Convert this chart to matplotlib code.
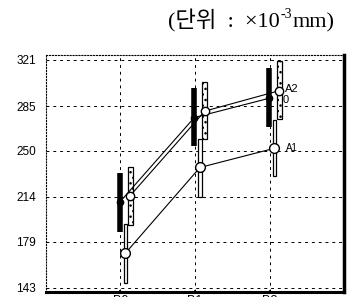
import numpy as np
import matplotlib
matplotlib.use("Agg")
import matplotlib.pyplot as plt

# data (unit: x10^-3 mm)
groups = ["B0", "B1", "B2"]
yticks = [143, 179, 214, 250, 285, 321]

a0_mean = [210, 276, 291]
a0_low = [187, 254, 269]
a0_high = [233, 299, 315]

a1_mean = [170, 237, 252]
a1_low = [147, 214, 230]
a1_high = [193, 259, 274]

a2_mean = [215, 281, 297]
a2_low = [192, 259, 275]
a2_high = [237, 304, 320]

x = np.arange(len(groups))
off = {"A0": -0.01, "A1": 0.065, "A2": 0.13}

fig = plt.figure(figsize=(3.48, 2.97), dpi=100)
ax = fig.add_axes([0.132, 0.017, 0.857, 0.798])

# range bars
ax.vlines(x + off["A0"], a0_low, a0_high, color="black", lw=4, zorder=2)
ax.bar(x + off["A1"], np.subtract(a1_high, a1_low), bottom=a1_low, width=0.045,
       facecolor="white", edgecolor="black", lw=0.9, zorder=3)
ax.bar(x + off["A2"], np.subtract(a2_high, a2_low), bottom=a2_low, width=0.07,
       facecolor="white", edgecolor="black", lw=0.9, hatch="...", zorder=4)

# mean lines
ax.plot(x + off["A0"], a0_mean, color="black", lw=0.8, marker="o", ms=4.5,
        mfc="black", mec="black", zorder=5)
ax.plot(x + off["A1"], a1_mean, color="black", lw=0.8, marker="o", ms=7,
        mfc="white", mec="black", zorder=5)
ax.plot(x + off["A2"], a2_mean, color="black", lw=0.8, marker="o", ms=6,
        mfc="white", mec="black", zorder=6)

ax.text(2.2, a2_mean[2] + 1, "A2", fontsize=8, family="Liberation Sans", va="center")
ax.text(2.17, a0_mean[2] - 1, "0", fontsize=8, family="Liberation Sans", va="center")
ax.text(2.22, a1_mean[2], "A1", fontsize=7, family="Liberation Sans", va="center")

ax.set_xlim(-1, 3)
ax.set_ylim(139.8, 324.9)
ax.set_xticks(x)
ax.set_xticklabels(groups, fontsize=9, family="Liberation Sans")
ax.set_yticks(yticks)
ax.set_yticklabels([str(v) for v in yticks], fontsize=8.5, family="Liberation Sans")
ax.tick_params(axis="y", length=0, pad=7)
ax.tick_params(axis="x", length=3, width=1.2, pad=0.5, direction="inout")

ax.grid(True, color="black", ls=(0, (3, 4)), lw=0.7)
ax.set_axisbelow(True)

ax.spines["top"].set_linestyle(":")
ax.spines["top"].set_linewidth(0.8)
ax.spines["left"].set_linestyle(":")
ax.spines["left"].set_linewidth(0.8)
ax.spines["right"].set_linewidth(2.5)
ax.spines["bottom"].set_linewidth(2.2)

# unit note, built in three pieces so the exponent sits raised
fam = ["Liberation Serif", "Noto Sans CJK KR"]
base_y = 0.906
t1 = fig.text(0.483, base_y, "(단위  :  ×10", va="baseline", fontsize=16, family=fam)
t2 = ax.annotate("-3", xy=(1, base_y), xycoords=(t1, "figure fraction"),
                 xytext=(0.5, 7), textcoords="offset points",
                 va="baseline", fontsize=10, family=fam, annotation_clip=False)
ax.annotate("mm)", xy=(1, base_y), xycoords=(t2, "figure fraction"),
            xytext=(0.3, 0), textcoords="offset points",
            va="baseline", fontsize=16, family=fam, annotation_clip=False)

fig.savefig("out.png", dpi=100)
